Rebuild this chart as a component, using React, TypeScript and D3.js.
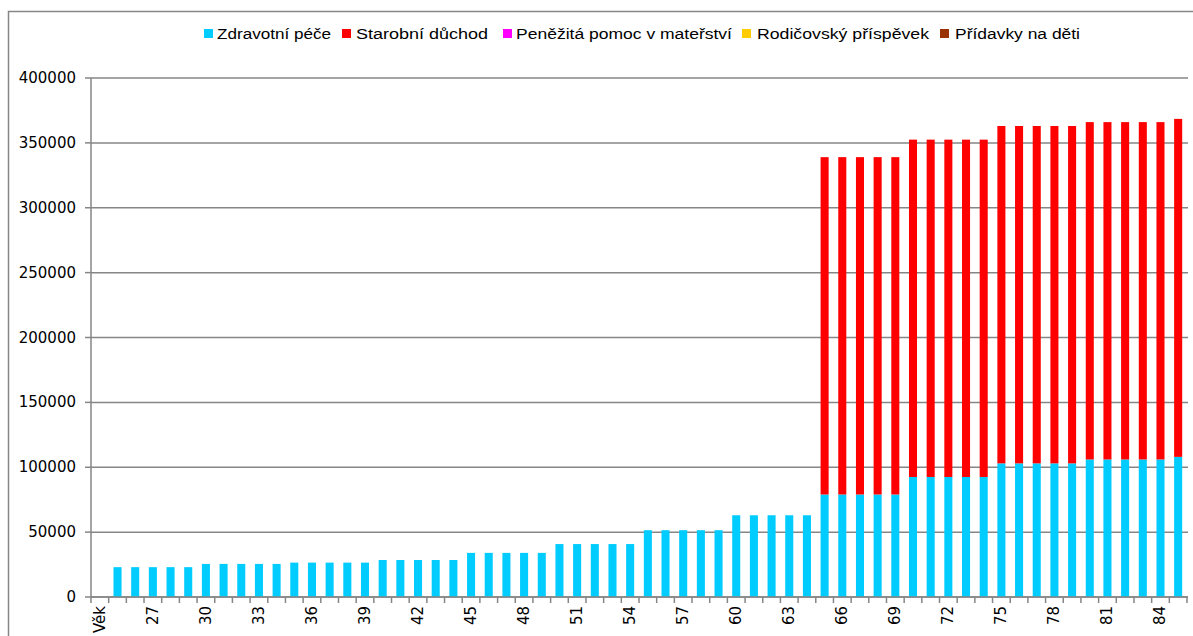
import React from "react";
import * as d3 from "d3";

const categories: string[] = [
  "Věk",
  "25", "26", "27", "28", "29", "30", "31", "32", "33", "34",
  "35", "36", "37", "38", "39", "40", "41", "42", "43", "44",
  "45", "46", "47", "48", "49", "50", "51", "52", "53", "54",
  "55", "56", "57", "58", "59", "60", "61", "62", "63", "64",
  "65", "66", "67", "68", "69", "70", "71", "72", "73", "74",
  "75", "76", "77", "78", "79", "80", "81", "82", "83", "84",
  "85",
];

// Zdravotní péče
const zdravotniPece: number[] = [
  0,
  23000, 23000, 23000, 23000, 23000,
  25500, 25500, 25500, 25500, 25500,
  26500, 26500, 26500, 26500, 26500,
  28500, 28500, 28500, 28500, 28500,
  34000, 34000, 34000, 34000, 34000,
  40800, 40800, 40800, 40800, 40800,
  51500, 51500, 51500, 51500, 51500,
  63000, 63000, 63000, 63000, 63000,
  79000, 79000, 79000, 79000, 79000,
  92500, 92500, 92500, 92500, 92500,
  103000, 103000, 103000, 103000, 103000,
  106000, 106000, 106000, 106000, 106000,
  108000,
];

// Starobní důchod
const starobniDuchod: number[] = [
  0,
  0, 0, 0, 0, 0,
  0, 0, 0, 0, 0,
  0, 0, 0, 0, 0,
  0, 0, 0, 0, 0,
  0, 0, 0, 0, 0,
  0, 0, 0, 0, 0,
  0, 0, 0, 0, 0,
  0, 0, 0, 0, 0,
  260000, 260000, 260000, 260000, 260000,
  260000, 260000, 260000, 260000, 260000,
  260000, 260000, 260000, 260000, 260000,
  260000, 260000, 260000, 260000, 260000,
  260500,
];

// Peněžitá pomoc v mateřství, Rodičovský příspěvek, Přídavky na děti: no visible values
const penezitaPomoc: number[] = [];
const rodicovskyPrispevek: number[] = [];
const pridavkyNaDeti: number[] = [];

const seriesNames: string[] = [
  "Zdravotní péče",
  "Starobní důchod",
  "Peněžitá pomoc v mateřství",
  "Rodičovský příspěvek",
  "Přídavky na děti",
];
const seriesColors: string[] = ["#00CCFF", "#FF0000", "#FF00FF", "#FFCC00", "#993300"];
const yTicks: number[] = [0, 50000, 100000, 150000, 200000, 250000, 300000, 350000, 400000];

// legend layout (square x, text x, text width)
const legendLayout = [
  { sx: 204, tx: 217, tw: 114 },
  { sx: 342, tx: 356, tw: 132 },
  { sx: 503, tx: 516, tw: 216 },
  { sx: 742, tx: 757, tw: 172 },
  { sx: 940, tx: 955, tw: 125 },
];

export default function App() {
  const W = 1193;
  const H = 636;
  const left = 91;
  const right = 1187;
  const top = 78;
  const bottom = 597;

  const x = d3
    .scaleBand<string>()
    .domain(categories)
    .range([left, right])
    .paddingInner(0.545)
    .paddingOuter(0.2725);
  const step = x.step();
  const y = d3.scaleLinear().domain([0, 400000]).range([bottom, top]);

  const allSeries = [zdravotniPece, starobniDuchod, penezitaPomoc, rodicovskyPrispevek, pridavkyNaDeti];
  const rows = categories.map((c, i) => {
    const r: any = { cat: c };
    allSeries.forEach((s, k) => (r["s" + k] = s[i] || 0));
    return r;
  });
  const stack = d3.stack<any>().keys(allSeries.map((_, k) => "s" + k));
  const stacked = stack(rows);

  const font = "'DejaVu Sans', Verdana, sans-serif";
  const gray = "#868686";

  return (
    <svg
      width={W}
      height={H}
      style={{ position: "absolute", left: 0, top: 0, background: "#fff" }}
    >
      <rect x={0} y={0} width={W} height={H} fill="#fff" />
      {/* outer border */}
      <rect x={8.5} y={11.5} width={W + 10} height={H + 10} fill="none" stroke={gray} strokeWidth={1.5} />

      {/* legend */}
      {seriesNames.map((n, k) => (
        <g key={n}>
          <rect x={legendLayout[k].sx} y={29} width={9} height={9} fill={seriesColors[k]} />
          <text
            x={legendLayout[k].tx}
            y={39}
            fontFamily="'Liberation Sans', Arial, sans-serif"
            fontSize={14}
            fill="#000"
            textLength={legendLayout[k].tw}
            lengthAdjust="spacingAndGlyphs"
          >
            {n}
          </text>
        </g>
      ))}

      {/* gridlines */}
      {yTicks.map((t) => (
        <line key={t} x1={left} x2={right + 1} y1={y(t)} y2={y(t)} stroke={gray} strokeWidth={1.5} />
      ))}

      {/* y axis */}
      <line x1={left} x2={left} y1={top} y2={bottom + 0.5} stroke={gray} strokeWidth={1.5} />
      {yTicks.map((t) => (
        <g key={"yt" + t}>
          <line x1={left - 6} x2={left} y1={y(t)} y2={y(t)} stroke={gray} strokeWidth={1.5} />
          <text
            x={76}
            y={y(t) + 5}
            textAnchor="end"
            fontFamily={font}
            fontSize={15}
            fill="#000"
          >
            {t}
          </text>
        </g>
      ))}

      {/* bars */}
      {stacked.map((layer, k) => (
        <g key={"l" + k} fill={seriesColors[k]}>
          {layer.map((d, i) => {
            const h = y(d[0]) - y(d[1]);
            if (h <= 0) return null;
            return (
              <rect
                key={i}
                x={x(categories[i])!}
                y={y(d[1])}
                width={x.bandwidth()}
                height={h}
              />
            );
          })}
        </g>
      ))}

      {/* x axis */}
      <line x1={left} x2={right + 1} y1={bottom} y2={bottom} stroke={gray} strokeWidth={1.5} />
      {d3.range(categories.length + 1).map((i) => (
        <line
          key={"xt" + i}
          x1={left + i * step}
          x2={left + i * step}
          y1={bottom}
          y2={bottom + 6}
          stroke={gray}
          strokeWidth={1.5}
        />
      ))}
      {categories.map((c, i) =>
        i % 3 === 0 ? (
          <text
            key={"xl" + i}
            transform={`translate(${x(c)! + x.bandwidth() / 2 + 5},${606}) rotate(-90)`}
            textAnchor="end"
            fontFamily={font}
            fontSize={15}
            fill="#000"
          >
            {c}
          </text>
        ) : null
      )}
    </svg>
  );
}
